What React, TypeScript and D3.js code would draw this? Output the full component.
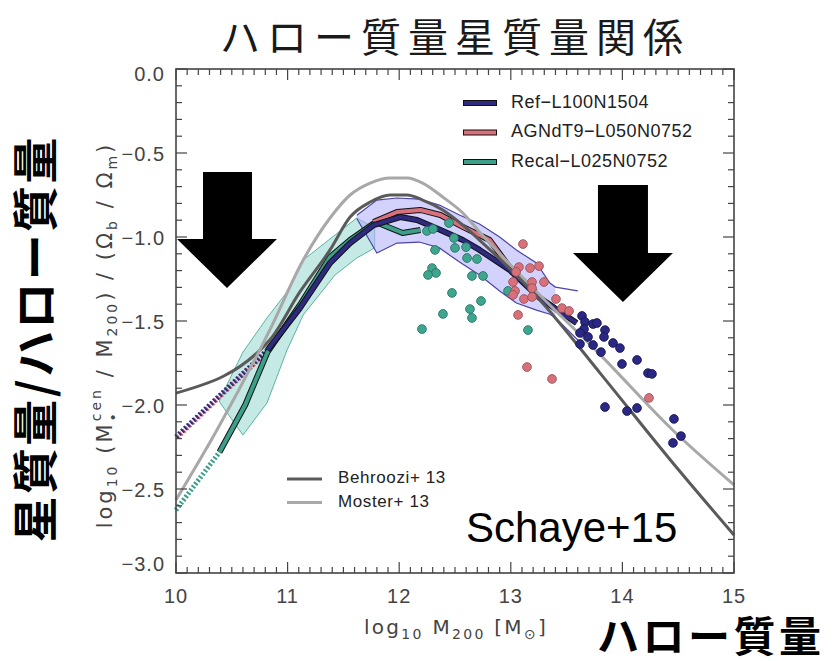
import React from 'react';
import * as d3 from 'd3';

// ---------- data ----------
const xTickValues = [10, 11, 12, 13, 14, 15];
const xTickLabels = ['10', '11', '12', '13', '14', '15'];
const yTickValues = [0, -0.5, -1, -1.5, -2, -2.5, -3];
const yTickLabels = ['0.0', '\u22120.5', '\u22121.0', '\u22121.5', '\u22122.0', '\u22122.5', '\u22123.0'];

const seriesNames = ['Ref\u2212L100N1504', 'AGNdT9\u2212L050N0752', 'Recal\u2212L025N0752'];
const obsNames = ['Behroozi+ 13', 'Moster+ 13'];

const moster: [number, number][] = [
  [10.0, -2.565], [10.367, -2.149], [10.84, -1.554], [11.14, -1.137], [11.38, -0.887],
  [11.56, -0.75], [11.74, -0.679], [11.92, -0.649], [12.07, -0.649], [12.21, -0.679],
  [12.39, -0.762], [12.57, -0.857], [12.72, -0.97], [13.26, -1.345], [13.8, -1.7],
  [14.45, -2.149], [15.0, -2.476],
];
const behroozi: [number, number][] = [
  [10.0, -1.929], [10.84, -1.613], [11.11, -1.327], [11.38, -1.077], [11.56, -0.881],
  [11.74, -0.792], [11.92, -0.75], [12.07, -0.75], [12.21, -0.78], [12.39, -0.839],
  [12.57, -0.929], [12.72, -1.018], [13.26, -1.375], [13.8, -1.81], [14.43, -2.327],
  [15.0, -2.774],
];

const refMedian: [number, number][] = [
  [10.82, -1.673], [11.11, -1.423], [11.38, -1.155], [11.56, -1.036], [11.77, -0.929],
  [12.01, -0.881], [12.16, -0.899], [12.37, -0.958], [12.57, -1.018], [12.72, -1.077],
  [12.99, -1.196], [13.26, -1.363], [13.59, -1.512],
];
const refDotted: [number, number][] = [[10.0, -2.19], [10.82, -1.673]];
const agnMedian: [number, number][] = [
  [11.77, -0.911], [11.98, -0.851], [12.19, -0.839], [12.37, -0.869], [12.57, -0.94],
  [12.81, -1.018], [13.02, -1.208], [13.22, -1.327],
];
const agnDotted: [number, number][] = [[10.0, -2.2], [10.82, -1.68]];
const recalMedian: [number, number][] = [
  [10.39, -2.28], [10.62, -2.0], [10.82, -1.685], [11.11, -1.405], [11.38, -1.119],
  [11.56, -1.018], [11.79, -0.911], [11.92, -0.946], [12.03, -0.976], [12.19, -0.958],
];
const recalDotted: [number, number][] = [[10.0, -2.625], [10.39, -2.28]];

// band: [x, low, high]
const refBand: [number, number, number][] = [
  [11.62, -0.89, -0.87], [11.8, -1.095, -0.78], [11.98, -1.036, -0.768], [12.18, -1.03, -0.774],
  [12.36, -1.065, -0.81], [12.54, -1.149, -0.869], [12.72, -1.226, -0.923], [12.9, -1.321, -1.0],
  [13.05, -1.393, -1.077], [13.23, -1.435, -1.155], [13.35, -1.46, -1.274], [13.4, -1.48, -1.298],
  [13.6, -1.613, -1.321],
];
const recalBand: [number, number, number][] = [
  [10.39, -1.982, -1.97], [10.6, -2.179, -1.685], [10.815, -1.988, -1.482], [10.995, -1.673, -1.327],
  [11.14, -1.464, -1.137], [11.425, -1.226, -0.988], [11.62, -1.125, -0.887], [11.78, -1.065, -0.946],
];

const recalPoints: [number, number][] = [
  [12.249, -0.964], [12.303, -0.952], [12.446, -0.917], [12.491, -1.006], [12.321, -1.077],
  [12.5, -1.065], [12.599, -1.06], [12.608, -1.125], [12.697, -1.131], [12.294, -1.185],
  [12.33, -1.214], [12.258, -1.226], [12.652, -1.232], [12.751, -1.232], [12.473, -1.333],
  [12.392, -1.458], [12.204, -1.548], [12.733, -1.381], [12.634, -1.429], [12.652, -1.482],
  [12.975, -1.321], [13.154, -1.554],
];
const agnPoints: [number, number][] = [
  [13.109, -1.042], [13.073, -1.179], [13.172, -1.185], [13.253, -1.173], [13.047, -1.208],
  [13.02, -1.268], [13.19, -1.268], [13.19, -1.304], [13.297, -1.268], [13.038, -1.321],
  [13.02, -1.345], [13.118, -1.369], [13.19, -1.357], [13.405, -1.369], [13.459, -1.423],
  [13.522, -1.44], [13.065, -1.464], [13.145, -1.774], [13.369, -1.845], [14.238, -1.958],
];
const refPoints: [number, number][] = [
  [13.638, -1.47], [13.665, -1.506], [13.656, -1.548], [13.62, -1.571], [13.692, -1.595],
  [13.737, -1.518], [13.772, -1.512], [13.844, -1.554], [13.835, -1.595], [13.62, -1.637],
  [13.737, -1.643], [13.808, -1.685], [13.916, -1.631], [13.978, -1.661], [13.996, -1.756],
  [14.131, -1.732], [14.229, -1.81], [14.265, -1.815], [13.844, -2.012], [14.041, -2.036],
  [14.131, -2.018], [14.462, -2.083], [14.453, -2.226], [14.525, -2.185],
];

// annotation arrows in data units: [shaftLeft, shaftRight, top, headY, headLeft, headRight, tipX, tipY]
const arrowLeft = [10.242, 10.681, -0.613, -1.012, 10.009, 10.905, 10.457, -1.304];
const arrowRight = [13.781, 14.229, -0.69, -1.095, 13.557, 14.453, 14.005, -1.387];

// ---------- styling ----------
const C = {
  ref: '#2e2a80', refPt: '#2a2884', refPtStroke: '#15144a',
  agn: '#d8717b', agnPt: '#d6717a', agnPtStroke: '#9a4a52',
  recal: '#3b9f8a', recalPt: '#3ea68f', recalPtStroke: '#236b5b',
  refBand: 'rgba(180,180,250,0.6)', refBandEdge: '#4b44a8',
  recalBand: 'rgba(150,215,205,0.55)', recalBandEdge: '#5cb3a2',
  behroozi: '#5a5a5a', moster: '#a8a8a8', axis: '#444',
};

export default function App() {
  const x = d3.scaleLinear().domain([10, 15]).range([176, 734]);
  const y = d3.scaleLinear().domain([0, -3]).range([69, 573]);
  const line = d3.line<[number, number]>().x(d => x(d[0])).y(d => y(d[1]));
  const smooth = d3.line<[number, number]>().x(d => x(d[0])).y(d => y(d[1])).curve(d3.curveMonotoneX);
  const area = d3.area<[number, number, number]>().x(d => x(d[0])).y0(d => y(d[1])).y1(d => y(d[2]));
  const lowLine = d3.line<[number, number, number]>().x(d => x(d[0])).y(d => y(d[1]));
  const highLine = d3.line<[number, number, number]>().x(d => x(d[0])).y(d => y(d[2]));

  const xMinor = d3.range(100, 151).map(v => v / 10);
  const yMinor = d3.range(0, 31).map(v => -v / 10);
  const x0 = x(10), x1 = x(15), y0 = y(0), y1 = y(-3);

  const arrowPath = (a: number[]) => {
    const [sl, sr, top, hy, hl, hr, tx, ty] = a;
    return `M${x(sl)},${y(top)}L${x(sr)},${y(top)}L${x(sr)},${y(hy)}L${x(hr)},${y(hy)}L${x(tx)},${y(ty)}L${x(hl)},${y(hy)}L${x(sl)},${y(hy)}Z`;
  };

  const outlined = (d: [number, number][], color: string, key: string) => (
    <g key={key}>
      <path d={line(d) || ''} fill="none" stroke="#111" strokeWidth={6} strokeLinejoin="round" />
      <path d={line(d) || ''} fill="none" stroke={color} strokeWidth={4} strokeLinejoin="round" />
    </g>
  );

  const font = "'Liberation Sans', Arial, sans-serif";
  const wide = "'DejaVu Sans', 'Liberation Sans', sans-serif";
  const cjk = "'Noto Sans CJK JP', 'Noto Sans CJK SC', sans-serif";

  const refBandFill = refBand.filter(d => d[0] <= 13.4);

  return (
    <svg width={833} height={661} style={{ position: 'absolute', left: 0, top: 0, background: '#fff' }}>
      <rect x={0} y={0} width={833} height={661} fill="#fff" />
      {/* title */}
      <text x={455} y={52} textAnchor="middle" fontFamily={cjk} fontSize={40} fill="#1a1a1a" letterSpacing={7}>
        ハロー質量星質量関係
      </text>

      {/* bands */}
      <path d={area(recalBand) || ''} fill={C.recalBand} stroke={C.recalBandEdge} strokeWidth={1} />
      <path d={area(refBandFill) || ''} fill={C.refBand} stroke="none" />
      <path d={lowLine(refBand) || ''} fill="none" stroke={C.refBandEdge} strokeWidth={1.2} />
      <path d={highLine(refBand) || ''} fill="none" stroke={C.refBandEdge} strokeWidth={1.2} />

      {/* dotted low-mass extensions */}
      <path d={line(agnDotted) || ''} fill="none" stroke={C.agn} strokeWidth={5} strokeDasharray="2 2" strokeDashoffset={2} />
      <path d={line(refDotted) || ''} fill="none" stroke={C.ref} strokeWidth={5} strokeDasharray="2 2" />
      <path d={line(recalDotted) || ''} fill="none" stroke={C.recal} strokeWidth={5} strokeDasharray="2 2" />

      {/* simulation medians */}
      {outlined(recalMedian, C.recal, 'recal')}
      {outlined(agnMedian, C.agn, 'agn')}
      {outlined(refMedian, C.ref, 'ref')}

      {/* observations */}
      <path d={smooth(behroozi) || ''} fill="none" stroke={C.behroozi} strokeWidth={3} />
      <path d={smooth(moster) || ''} fill="none" stroke={C.moster} strokeWidth={3} />

      {/* individual haloes */}
      {recalPoints.map((d, i) => (
        <circle key={'rc' + i} cx={x(d[0])} cy={y(d[1])} r={4.4} fill={C.recalPt} stroke={C.recalPtStroke} strokeWidth={0.8} />
      ))}
      {agnPoints.map((d, i) => (
        <circle key={'ag' + i} cx={x(d[0])} cy={y(d[1])} r={4.4} fill={C.agnPt} stroke={C.agnPtStroke} strokeWidth={0.8} />
      ))}
      {refPoints.map((d, i) => (
        <circle key={'rf' + i} cx={x(d[0])} cy={y(d[1])} r={4.4} fill={C.refPt} stroke={C.refPtStroke} strokeWidth={0.8} />
      ))}

      {/* frame and ticks */}
      <rect x={x0} y={y0} width={x1 - x0} height={y1 - y0} fill="none" stroke={C.axis} strokeWidth={1.6} />
      {xMinor.map((v, i) => {
        const major = Math.abs(v - Math.round(v)) < 1e-6;
        const len = major ? 11 : 6;
        return (
          <g key={'xt' + i} stroke={C.axis} strokeWidth={1.2}>
            <line x1={x(v)} x2={x(v)} y1={y1} y2={y1 - len} />
            <line x1={x(v)} x2={x(v)} y1={y0} y2={y0 + len} />
          </g>
        );
      })}
      {yMinor.map((v, i) => {
        const major = Math.abs(v * 2 - Math.round(v * 2)) < 1e-6;
        const len = major ? 11 : 6;
        return (
          <g key={'yt' + i} stroke={C.axis} strokeWidth={1.2}>
            <line x1={x0} x2={x0 + len} y1={y(v)} y2={y(v)} />
            <line x1={x1} x2={x1 - len} y1={y(v)} y2={y(v)} />
          </g>
        );
      })}
      {xTickValues.map((v, i) => (
        <text key={'xl' + i} x={x(v)} y={603} textAnchor="middle" fontFamily={font} fontSize={20} letterSpacing={1} fill="#444">
          {xTickLabels[i]}
        </text>
      ))}
      {yTickValues.map((v, i) => (
        <text key={'yl' + i} x={165} y={Math.min(Math.max(y(v) + 3, 76), 566)} textAnchor="end" dominantBaseline="middle"
          fontFamily={font} fontSize={20} letterSpacing={1} fill="#444">
          {yTickLabels[i]}
        </text>
      ))}

      {/* axis titles */}
      <text x={456} y={634} textAnchor="middle" fontFamily={wide} fontSize={20} letterSpacing={2.3} fill="#444">
        log<tspan fontSize={14} dy={5}>10</tspan><tspan dy={-5}> M</tspan><tspan fontSize={14} dy={5}>200</tspan>
        <tspan dy={-5}> [M</tspan><tspan fontSize={14} dy={5}>⊙</tspan><tspan dy={-5}>]</tspan>
      </text>
      <text transform="translate(112,335) rotate(-90)" textAnchor="middle" fontFamily={wide} fontSize={21} letterSpacing={3} fill="#444">
        log<tspan fontSize={14} dy={5}>10</tspan><tspan dy={-5}> (M</tspan><tspan fontSize={14} dy={6}>•</tspan>
        <tspan fontSize={14} dx={-11} dy={-17}>cen</tspan><tspan dy={11}> / M</tspan><tspan fontSize={14} dy={5}>200</tspan>
        <tspan dy={-5}>) / (Ω</tspan><tspan fontSize={14} dy={5}>b</tspan><tspan dy={-5}> / Ω</tspan>
        <tspan fontSize={14} dy={5}>m</tspan><tspan dy={-5}>)</tspan>
      </text>

      {/* legend: simulations */}
      {seriesNames.map((n, i) => {
        const colors = [C.ref, C.agn, C.recal];
        const ly = 103 + i * 29.5;
        return (
          <g key={'lg' + i}>
            <line x1={463} x2={497} y1={ly} y2={ly} stroke="#111" strokeWidth={6} />
            <line x1={464} x2={496} y1={ly} y2={ly} stroke={colors[i]} strokeWidth={4} />
            <text x={511} y={ly} dominantBaseline="middle" fontFamily={font} fontSize={18} letterSpacing={0.5} fill="#222">{n}</text>
          </g>
        );
      })}
      {/* legend: observations */}
      {obsNames.map((n, i) => {
        const colors = [C.behroozi, C.moster];
        const ly = 479 + i * 23.5;
        return (
          <g key={'lo' + i}>
            <line x1={287} x2={322} y1={ly} y2={ly} stroke={colors[i]} strokeWidth={3} />
            <text x={338} y={ly} dominantBaseline="middle" fontFamily={font} fontSize={17} letterSpacing={0.6} fill="#222">{n}</text>
          </g>
        );
      })}

      <text x={466} y={542} fontFamily={font} fontSize={42} fill="#000">Schaye+15</text>

      {/* arrows */}
      <path d={arrowPath(arrowLeft)} fill="#000" />
      <path d={arrowPath(arrowRight)} fill="#000" />

      {/* Japanese annotations */}
      <text transform="translate(52,340) rotate(-90)" textAnchor="middle" fontFamily={cjk} fontWeight={700} fontSize={46}
        fill="#000" textLength={405} lengthAdjust="spacing">
        星質量/ハロー質量
      </text>
      <text x={597} y={652} fontFamily={cjk} fontWeight={700} fontSize={42} fill="#000" textLength={224} lengthAdjust="spacing">
        ハロー質量
      </text>
    </svg>
  );
}
